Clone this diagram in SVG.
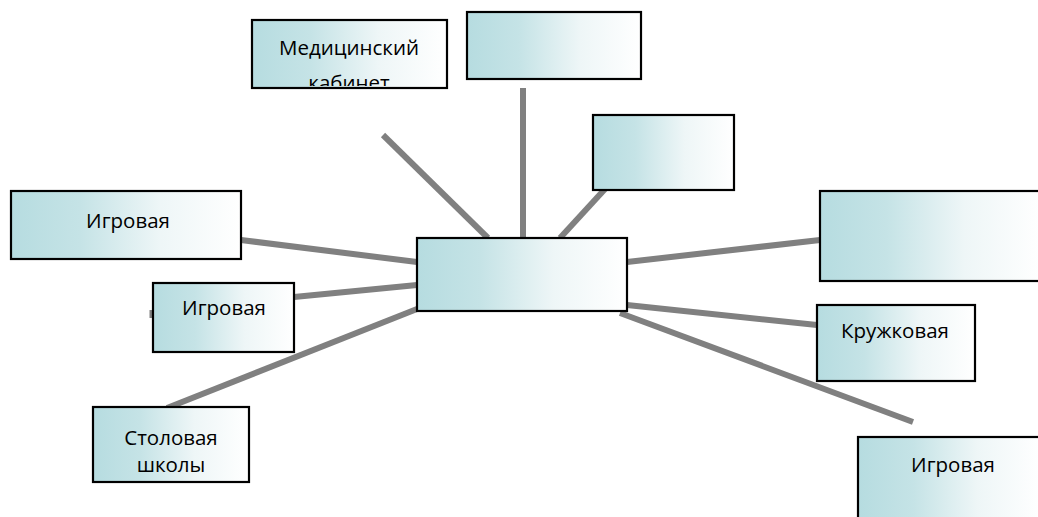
<svg xmlns="http://www.w3.org/2000/svg" width="1038" height="517" viewBox="0 0 1038 517">
<style>
.box{fill:url(#g);stroke:#000;stroke-width:2.2}
.ln{stroke:#808080;stroke-width:6;fill:none}
text{font-family:"Open Sans","Liberation Sans",sans-serif;font-size:20.5px;fill:#000;text-anchor:middle}
</style>
<defs>
<linearGradient id="g" x1="0" y1="0" x2="1" y2="0">
<stop offset="0" stop-color="#b6dce0"/>
<stop offset="0.3" stop-color="#c5e3e6"/>
<stop offset="0.65" stop-color="#eef6f7"/>
<stop offset="1" stop-color="#ffffff"/>
</linearGradient>
<clipPath id="cm"><rect x="253" y="21" width="193" height="65"/></clipPath>
</defs>
<g id="connectors">
<line class="ln" x1="383" y1="135" x2="488" y2="238"/>
<line class="ln" x1="523" y1="88" x2="523" y2="238"/>
<line class="ln" x1="605" y1="189" x2="560" y2="238"/>
<line class="ln" x1="241" y1="240" x2="417" y2="262"/>
<line class="ln" x1="294" y1="297" x2="417" y2="285"/>
<line class="ln" x1="417" y1="309" x2="167" y2="408"/>
<line class="ln" x1="627" y1="262" x2="820" y2="240"/>
<line class="ln" x1="627" y1="305" x2="817" y2="325"/>
<line class="ln" x1="620" y1="313" x2="913" y2="422"/>
<line class="ln" x1="151" y1="310" x2="151" y2="318" style="stroke-width:3"/>
</g>
<g id="n-medical">
<rect class="box" x="252" y="20" width="195" height="68"/>
<g clip-path="url(#cm)">
<text x="349" y="55">Медицинский</text>
<text x="349" y="90">кабинет</text>
</g>
</g>
<g id="n-top"><rect class="box" x="467" y="12" width="174" height="67"/></g>
<g id="n-upright"><rect class="box" x="593" y="115" width="141" height="75"/></g>
<g id="n-center"><rect class="box" x="417" y="238" width="210" height="73"/></g>
<g id="n-right"><rect class="box" x="820" y="191" width="222" height="90"/></g>
<g id="n-play1"><rect class="box" x="11" y="191" width="230" height="68"/><text x="128" y="228">Игровая</text></g>
<g id="n-play2"><rect class="box" x="153" y="283" width="141" height="69"/><text x="224" y="315">Игровая</text></g>
<g id="n-canteen"><rect class="box" x="93" y="407" width="156" height="75"/><text x="171" y="445">Столовая</text><text x="171" y="472">школы</text></g>
<g id="n-club"><rect class="box" x="817" y="305" width="158" height="76"/><text x="895" y="338">Кружковая</text></g>
<g id="n-play3"><rect class="box" x="858" y="437" width="184" height="84"/><text x="953" y="472">Игровая</text></g>
</svg>
